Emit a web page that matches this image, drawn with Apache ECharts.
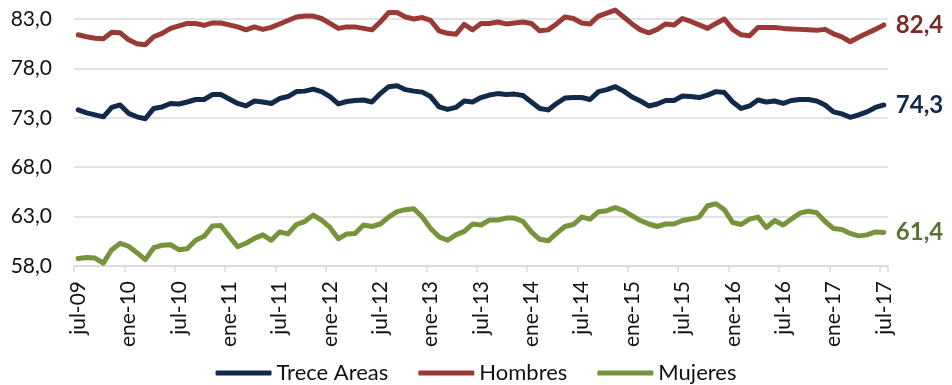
<!DOCTYPE html>
<html>
<head>
<meta charset="utf-8">
<script src="https://cdn.jsdelivr.net/npm/echarts@6/dist/echarts.min.js"></script>
<style>
  html, body { margin: 0; padding: 0; background: #ffffff; }
  #chart { width: 952px; height: 385px; }
</style>
</head>
<body>
<div id="chart"></div>
<script>
// Monthly series, jul-09 .. jul-17
const monthNames = ['ene', 'feb', 'mar', 'abr', 'may', 'jun', 'jul', 'ago', 'sep', 'oct', 'nov', 'dic'];
const startYear = 2009, startMonth = 6, monthCount = 97;

const treceAreas = [
  73.8, 73.5, 73.3, 73.1, 74.05, 74.3, 73.45, 73.1, 72.9, 73.95,
  74.1, 74.45, 74.4, 74.6, 74.85, 74.85, 75.35, 75.35, 74.9, 74.45,
  74.2, 74.7, 74.6, 74.45, 74.95, 75.15, 75.65, 75.7, 75.9, 75.65,
  75.15, 74.4, 74.65, 74.75, 74.8, 74.6, 75.45, 76.15, 76.25, 75.85,
  75.7, 75.6, 75.15, 74.1, 73.85, 74.05, 74.7, 74.6, 75.05, 75.3,
  75.45, 75.35, 75.4, 75.25, 74.6, 73.95, 73.8, 74.45, 75.0, 75.05,
  75.05, 74.85, 75.65, 75.85, 76.15, 75.7, 75.1, 74.7, 74.2, 74.4,
  74.75, 74.75, 75.2, 75.15, 75.05, 75.3, 75.65, 75.55, 74.6, 73.95,
  74.2, 74.8, 74.6, 74.7, 74.45, 74.75, 74.85, 74.85, 74.7, 74.3,
  73.6, 73.4, 73.05, 73.3, 73.6, 74.05, 74.3
];

const hombres = [
  81.4, 81.2, 81.05, 81.0, 81.65, 81.6, 80.9, 80.5, 80.4, 81.2,
  81.55, 82.05, 82.3, 82.55, 82.55, 82.35, 82.6, 82.6, 82.4, 82.2,
  81.9, 82.2, 81.95, 82.15, 82.5, 82.85, 83.2, 83.3, 83.3, 83.05,
  82.55, 82.05, 82.2, 82.2, 82.05, 81.9, 82.7, 83.65, 83.65, 83.2,
  83.0, 83.15, 82.85, 81.8, 81.55, 81.45, 82.45, 81.9, 82.55, 82.55,
  82.7, 82.5, 82.6, 82.7, 82.55, 81.8, 81.9, 82.5, 83.2, 83.05,
  82.6, 82.5, 83.3, 83.6, 83.9, 83.2, 82.5, 81.9, 81.6, 81.95,
  82.5, 82.4, 83.05, 82.75, 82.4, 82.05, 82.55, 83.0, 81.95, 81.4,
  81.3, 82.15, 82.15, 82.15, 82.05, 82.0, 81.95, 81.9, 81.85, 81.95,
  81.5, 81.2, 80.7, 81.15, 81.55, 81.95, 82.4
];

const mujeres = [
  58.75, 58.85, 58.8, 58.3, 59.65, 60.3, 60.0, 59.35, 58.65, 59.85,
  60.1, 60.15, 59.65, 59.75, 60.6, 61.0, 62.05, 62.1, 61.0, 59.95,
  60.3, 60.8, 61.15, 60.6, 61.45, 61.25, 62.2, 62.5, 63.15, 62.65,
  61.9, 60.75, 61.25, 61.3, 62.15, 62.0, 62.25, 62.95, 63.5, 63.7,
  63.8, 62.95, 61.8, 60.95, 60.6, 61.15, 61.5, 62.25, 62.15, 62.65,
  62.65, 62.85, 62.85, 62.5, 61.45, 60.7, 60.55, 61.3, 62.0, 62.2,
  62.95, 62.75, 63.5, 63.6, 63.9, 63.6, 63.1, 62.6, 62.25, 62.0,
  62.25, 62.25, 62.6, 62.75, 62.95, 64.1, 64.3, 63.7, 62.4, 62.2,
  62.75, 62.95, 61.9, 62.6, 62.15, 62.75, 63.35, 63.55, 63.4, 62.5,
  61.8, 61.7, 61.3, 61.05, 61.15, 61.45, 61.4
];

// Value-axis ticks
const yTicks = [58, 63, 68, 73, 78, 83];

// Month labels like "jul-09"
const categories = [];
for (let k = 0; k < monthCount; k++) {
  const m = (startMonth + k) % 12;
  const y = startYear + Math.floor((startMonth + k) / 12);
  categories.push(monthNames[m] + '-' + String(y % 100).padStart(2, '0'));
}

const fmt = v => Number(v).toFixed(1).replace('.', ',');
const FONT = 'Lato';

function lineSeries(name, data, lineColor, labelColor) {
  return {
    name: name,
    type: 'line',
    data: data,
    symbol: 'none',
    smooth: false,
    clip: false,
    lineStyle: { color: lineColor, width: 5, cap: 'round', join: 'round' },
    itemStyle: { color: lineColor },
    endLabel: {
      show: true,
      distance: 12,
      formatter: p => fmt(p.value),
      color: labelColor,
      fontFamily: FONT,
      fontWeight: 'bold',
      fontSize: 24
    },
    emphasis: { disabled: true }
  };
}

const chart = echarts.init(document.getElementById('chart'), null, { renderer: 'canvas' });
chart.setOption({
  animation: false,
  backgroundColor: '#ffffff',
  textStyle: { fontFamily: FONT },
  grid: { left: 74, right: 64, top: 19, bottom: 119, containLabel: false, outerBoundsMode: 'none' },
  legend: {
    top: 357,
    left: 'center',
    icon: 'roundRect',
    itemWidth: 56,
    itemHeight: 5,
    itemGap: 30,
    textStyle: { fontFamily: FONT, fontSize: 22, color: '#111111' },
    data: ['Trece Areas', 'Hombres', 'Mujeres']
  },
  xAxis: {
    type: 'category',
    data: categories,
    boundaryGap: true,
    axisLine: { show: true, lineStyle: { color: '#d9d9d9', width: 1.5 } },
    axisTick: { show: true, interval: 5, length: 6, lineStyle: { color: '#d9d9d9', width: 1.5 } },
    axisLabel: {
      interval: 5,
      rotate: 90,
      margin: 15,
      fontFamily: FONT,
      fontSize: 21,
      color: '#111111'
    },
    splitLine: { show: false }
  },
  yAxis: {
    type: 'value',
    min: yTicks[0],
    max: yTicks[yTicks.length - 1],
    interval: yTicks[1] - yTicks[0],
    axisLine: { show: false },
    axisTick: { show: false },
    axisLabel: {
      margin: 22,
      fontFamily: FONT,
      fontSize: 21,
      color: '#111111',
      formatter: v => fmt(v)
    },
    splitLine: { show: true, lineStyle: { color: '#d9d9d9', width: 1.5 } }
  },
  series: [
    lineSeries('Trece Areas', treceAreas, '#112a49', '#14294a'),
    lineSeries('Hombres', hombres, '#993a37', '#7a2b29'),
    lineSeries('Mujeres', mujeres, '#77933c', '#5b7230')
  ]
});
</script>
</body>
</html>
